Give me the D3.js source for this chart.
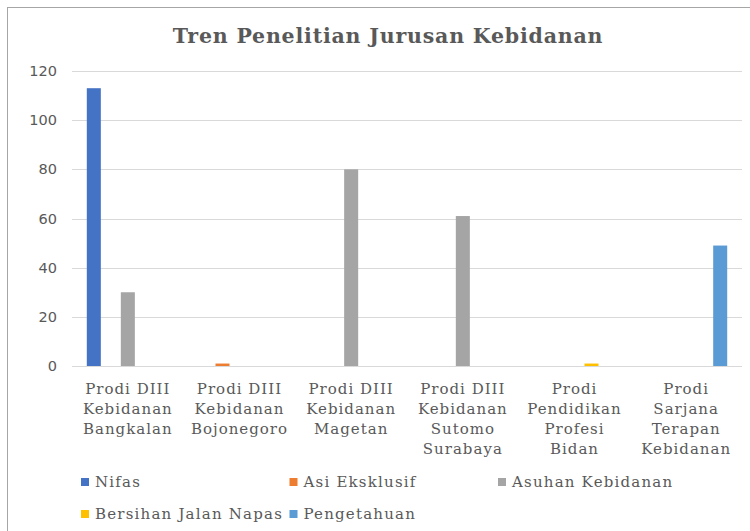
<!DOCTYPE html>
<html>
<head>
<meta charset="utf-8">
<script src="https://cdn.jsdelivr.net/npm/d3@7"></script>
<style>
  body { margin: 0; background: #fff; }
  svg { display: block; }
</style>
</head>
<body>
<svg id="chart" width="750" height="531"></svg>
<script>
// data
var categories = [
    "Prodi DIII Kebidanan Bangkalan",
    "Prodi DIII Kebidanan Bojonegoro",
    "Prodi DIII Kebidanan Magetan",
    "Prodi DIII Kebidanan Sutomo Surabaya",
    "Prodi Pendidikan Profesi Bidan",
    "Prodi Sarjana Terapan Kebidanan"
];
var categoryLines = [
    ["Prodi DIII", "Kebidanan", "Bangkalan"],
    ["Prodi DIII", "Kebidanan", "Bojonegoro"],
    ["Prodi DIII", "Kebidanan", "Magetan"],
    ["Prodi DIII", "Kebidanan", "Sutomo", "Surabaya"],
    ["Prodi", "Pendidikan", "Profesi", "Bidan"],
    ["Prodi", "Sarjana", "Terapan", "Kebidanan"]
];
var seriesNames = ["Nifas", "Asi Eksklusif", "Asuhan Kebidanan", "Bersihan Jalan Napas", "Pengetahuan"];
var nifas        = [113, 0, 0, 0, 0, 0];
var asiEksklusif = [0, 1, 0, 0, 0, 0];
var asuhan       = [30, 0, 80, 61, 0, 0];
var bersihan     = [0, 0, 0, 0, 1, 0];
var pengetahuan  = [0, 0, 0, 0, 0, 49];
var yTicks = [0, 20, 40, 60, 80, 100, 120];
var colors = ["#4472C4", "#ED7D31", "#A5A5A5", "#FFC000", "#5B9BD5"];

var seriesValues = [nifas, asiEksklusif, asuhan, bersihan, pengetahuan];

var svg = d3.select("#chart");
var textColor = "#595959";

// chart frame
svg.append("rect")
    .attr("x", 7.5).attr("y", 7.5)
    .attr("width", 760).attr("height", 540)
    .attr("fill", "#fff")
    .attr("stroke", "#a6a6a6")
    .attr("stroke-width", 1);

svg.append("text")
    .attr("x", 388)
    .attr("y", 43)
    .attr("text-anchor", "middle")
    .style("font-family", "'DejaVu Serif', serif")
    .style("font-weight", "bold")
    .style("font-size", "20.5px")
    .style("letter-spacing", "0.8px")
    .style("fill", textColor)
    .text("Tren Penelitian Jurusan Kebidanan");

var plotLeft = 72, plotRight = 742, plotTop = 71, plotBottom = 366;

var x = d3.scaleBand()
    .domain(categories)
    .range([plotLeft, plotRight]);

var xs = d3.scaleBand()
    .domain(seriesNames)
    .range([0, x.bandwidth()])
    .paddingInner(0.176)
    .paddingOuter(0.87);

var y = d3.scaleLinear()
    .domain([0, 120])
    .range([plotBottom, plotTop]);

// gridlines
svg.append("g")
    .selectAll("line")
    .data(yTicks)
    .enter().append("line")
    .attr("x1", plotLeft).attr("x2", plotRight)
    .attr("y1", function(d) { return Math.round(y(d)) + 0.5; })
    .attr("y2", function(d) { return Math.round(y(d)) + 0.5; })
    .attr("stroke", "#d9d9d9")
    .attr("stroke-width", 1);

var yAxis = d3.axisLeft(y).tickValues(yTicks).tickSize(0).tickPadding(0);
var yg = svg.append("g")
    .attr("transform", "translate(57,0)")
    .call(yAxis);
yg.select(".domain").remove();
yg.selectAll("text")
    .style("font-family", "'DejaVu Sans', sans-serif")
    .style("font-size", "14.5px")
    .style("fill", textColor);

// bars
var rows = [];
seriesValues.forEach(function(vals, si) {
    vals.forEach(function(v, ci) {
        if (v > 0) rows.push({series: seriesNames[si], cat: categories[ci], value: v, color: colors[si]});
    });
});

svg.append("g")
    .selectAll("rect")
    .data(rows)
    .enter().append("rect")
    .attr("x", function(d) { return x(d.cat) + xs(d.series); })
    .attr("y", function(d) { return y(d.value); })
    .attr("width", xs.bandwidth())
    .attr("height", function(d) { return plotBottom - y(d.value); })
    .attr("fill", function(d) { return d.color; });

// category labels
var labels = svg.append("g")
    .selectAll("text")
    .data(categories)
    .enter().append("text")
    .attr("text-anchor", "middle")
    .style("font-family", "'DejaVu Serif', serif")
    .style("font-size", "15px")
    .style("letter-spacing", "1px")
    .style("fill", textColor);

labels.each(function(d, i) {
    var t = d3.select(this);
    categoryLines[i].forEach(function(line, li) {
        t.append("tspan")
            .attr("x", x(d) + x.bandwidth() / 2)
            .attr("y", 394 + li * 20)
            .text(line);
    });
});

// legend
var legend = svg.append("g")
    .selectAll("g")
    .data(seriesNames)
    .enter().append("g")
    .attr("transform", function(d, i) {
        return "translate(" + (81 + (i % 3) * 208.5) + "," + (482 + Math.floor(i / 3) * 32) + ")";
    });

legend.append("rect")
    .attr("x", 0).attr("y", -4)
    .attr("width", 8).attr("height", 8)
    .attr("fill", function(d, i) { return colors[i]; });

legend.append("text")
    .attr("x", 14)
    .attr("y", 5)
    .style("font-family", "'DejaVu Serif', serif")
    .style("font-size", "15px")
    .style("letter-spacing", "1.2px")
    .style("fill", textColor)
    .text(function(d) { return d; });
</script>
</body>
</html>
